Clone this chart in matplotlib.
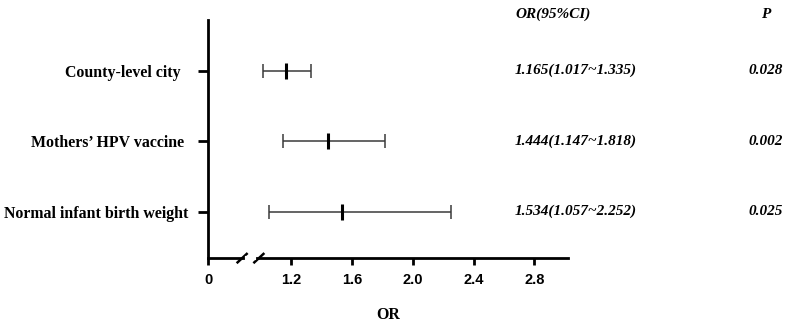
import matplotlib
matplotlib.use("Agg")
import matplotlib.pyplot as plt

labels = ["County-level city  ", "Mothers\u2019 HPV vaccine ", "Normal infant birth weight"]
or_vals = [1.165, 1.444, 1.534]
ci_low = [1.017, 1.147, 1.057]
ci_high = [1.335, 1.818, 2.252]
or_text = ["1.165(1.017~1.335)", "1.444(1.147~1.818)", "1.534(1.057~2.252)"]
p_text = ["0.028", "0.002", "0.025"]
tick_vals = [1.2, 1.6, 2.0, 2.4, 2.8]
tick_labels = ["1.2", "1.6", "2.0", "2.4", "2.8"]

# axis is broken: "0" sits just left of the break
zero_pos = 0.656
xmax = 3.02

fig = plt.figure(figsize=(7.91, 3.28), dpi=100)
ax = fig.add_axes([0.263, 0.213, 0.455, 0.726])

ypos = [3, 2, 1]
for y, m, lo, hi in zip(ypos, or_vals, ci_low, ci_high):
    ax.errorbar(m, y, xerr=[[m - lo], [hi - m]], fmt="none", ecolor="#3a3a3a",
                elinewidth=1.1, capsize=5, capthick=1.1)
    ax.plot(m, y, marker="|", color="black", markersize=11, markeredgewidth=2.2)

ax.set_xlim(zero_pos, xmax)
ax.set_ylim(0.34, 3.72)

ax.set_yticks(ypos)
ax.set_yticklabels(labels, family="Liberation Serif", fontweight="bold", fontsize=11.4)
ax.set_xticks([zero_pos] + tick_vals)
ax.set_xticklabels(["0"] + tick_labels, family="Liberation Sans", fontweight="bold", fontsize=10.5)

for s in ["top", "right"]:
    ax.spines[s].set_visible(False)
ax.spines["left"].set_linewidth(2)
ax.spines["bottom"].set_linewidth(2)
ax.tick_params(axis="y", length=7, width=2, pad=7)
ax.tick_params(axis="x", length=5, width=2, pad=6)

# break marks on the x axis
for bx in [0.88, 0.99]:
    ax.plot([bx - 0.03, bx + 0.03], [0.34 - 0.06, 0.34 + 0.06], color="black",
            lw=1.8, clip_on=False)
ax.plot([0.91, 0.96], [0.34, 0.34], color="white", lw=3, clip_on=False, zorder=5)

ax.set_xlabel("OR", family="Liberation Serif", fontweight="bold", fontsize=11.4, labelpad=14)

# text columns
fig.text(515 / 791, 1 - 14 / 328, "OR(95%CI)", family="Liberation Serif", fontweight="bold",
         style="italic", fontsize=11, va="center", ha="left")
fig.text(766 / 791, 1 - 14 / 328, "P", family="Liberation Serif", fontweight="bold",
         style="italic", fontsize=11, va="center", ha="center")
for y, t, p in zip(ypos, or_text, p_text):
    yy = ax.transData.transform((1.2, y))[1] / fig.bbox.height
    fig.text(515 / 791, yy, t, family="Liberation Serif", fontweight="bold",
             style="italic", fontsize=11, va="center", ha="left")
    fig.text(766 / 791, yy, p, family="Liberation Serif", fontweight="bold",
             style="italic", fontsize=11, va="center", ha="center")

fig.savefig("out.png", dpi=100)
